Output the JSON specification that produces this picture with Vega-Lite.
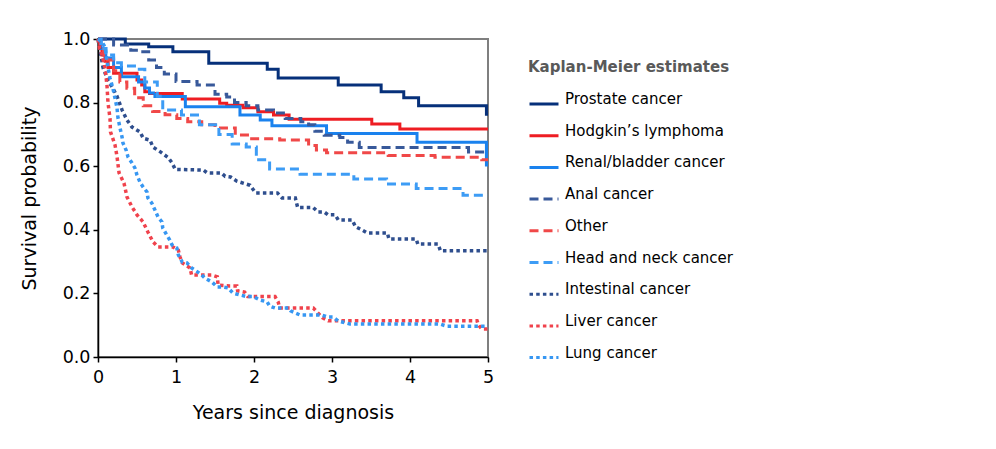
{
  "$schema": "https://vega.github.io/schema/vega-lite/v6.json",
  "width": 390,
  "height": 318,
  "autosize": "none",
  "padding": {"left": 98, "top": 39, "right": 508, "bottom": 92},
  "background": "white",
  "data": {
    "values": [
      {"g": "Prostate cancer", "t": [0,0.35,0.65,0.96,1.42,2.17,2.31,3.08,3.63,3.92,4.11,4.98,5], "s": [1,0.984,0.976,0.96,0.924,0.905,0.877,0.855,0.834,0.815,0.79,0.763,0.763]},
      {"g": "Hodgkin’s lymphoma", "t": [0,0.02,0.05,0.09,0.13,0.2,0.5,0.56,0.6,0.66,1.08,1.56,1.65,1.86,2.05,2.25,2.45,3.51,3.87,5], "s": [1,0.97,0.95,0.93,0.91,0.892,0.871,0.855,0.834,0.829,0.811,0.798,0.792,0.784,0.771,0.761,0.748,0.733,0.717,0.717]},
      {"g": "Renal/bladder cancer", "t": [0,0.04,0.1,0.2,0.3,0.52,0.6,0.66,0.73,1.12,1.82,2.08,2.23,2.93,4.09,4.98,5], "s": [1,0.97,0.94,0.91,0.881,0.865,0.846,0.83,0.819,0.787,0.761,0.745,0.727,0.703,0.675,0.604,0.604]},
      {"g": "Anal cancer", "t": [0,0.2,0.42,0.55,0.65,0.75,0.85,1.0,1.27,1.5,1.65,1.75,1.9,2.05,2.25,2.4,2.6,2.7,2.78,2.9,3.1,3.2,3.35,4.75,5], "s": [1,0.981,0.965,0.96,0.934,0.91,0.89,0.866,0.855,0.826,0.818,0.8,0.79,0.777,0.767,0.75,0.74,0.73,0.71,0.697,0.69,0.675,0.659,0.645,0.645]},
      {"g": "Other", "t": [0,0.03,0.07,0.12,0.2,0.28,0.37,0.47,0.58,0.7,0.86,1.01,1.15,1.33,1.5,1.76,1.95,2.33,2.7,2.8,2.93,3.72,4.32,4.92,5], "s": [1,0.97,0.95,0.934,0.9,0.865,0.845,0.815,0.79,0.772,0.762,0.75,0.74,0.73,0.72,0.698,0.686,0.682,0.665,0.651,0.642,0.634,0.628,0.62,0.62]},
      {"g": "Head and neck cancer", "t": [0,0.04,0.1,0.2,0.3,0.5,0.6,0.76,0.83,1.07,1.3,1.55,1.72,1.9,2.03,2.2,2.59,3.28,3.7,4.08,4.68,5], "s": [1,0.97,0.95,0.925,0.915,0.905,0.865,0.82,0.777,0.761,0.73,0.7,0.67,0.66,0.62,0.591,0.575,0.56,0.544,0.53,0.509,0.509]},
      {"g": "Intestinal cancer", "t": [0,0.03,0.064,0.128,0.19,0.244,0.308,0.372,0.436,0.538,0.58,0.667,0.705,0.8,0.9,0.95,0.99,1.35,1.4,1.58,1.63,1.7,1.78,1.95,2.02,2.3,2.36,2.53,2.56,2.76,2.82,2.9,2.95,3.04,3.08,3.26,3.3,3.38,3.45,3.71,3.73,4.08,4.1,4.36,4.39,5], "s": [1,0.96,0.91,0.87,0.845,0.82,0.777,0.745,0.723,0.708,0.688,0.682,0.66,0.645,0.627,0.61,0.59,0.588,0.579,0.579,0.568,0.566,0.553,0.54,0.516,0.516,0.5,0.5,0.47,0.47,0.456,0.456,0.447,0.447,0.431,0.431,0.41,0.4,0.39,0.39,0.371,0.371,0.355,0.355,0.334,0.334]},
      {"g": "Liver cancer", "t": [0,0.02,0.05,0.09,0.115,0.128,0.154,0.16,0.218,0.244,0.27,0.333,0.372,0.436,0.5,0.577,0.64,0.705,0.77,0.96,1.03,1.05,1.08,1.18,1.2,1.46,1.53,1.54,1.69,1.78,1.79,1.88,1.92,2.27,2.31,2.33,2.76,2.88,2.95,4.86,4.88,4.92,5], "s": [1,0.97,0.95,0.91,0.855,0.8,0.75,0.708,0.667,0.63,0.579,0.547,0.503,0.472,0.447,0.425,0.393,0.362,0.346,0.346,0.336,0.316,0.296,0.28,0.258,0.258,0.252,0.226,0.223,0.223,0.208,0.204,0.19,0.19,0.173,0.154,0.154,0.123,0.114,0.114,0.1,0.088,0.088]},
      {"g": "Lung cancer", "t": [0,0.05,0.09,0.128,0.154,0.19,0.218,0.244,0.256,0.28,0.308,0.32,0.36,0.385,0.436,0.474,0.5,0.538,0.577,0.628,0.64,0.69,0.73,0.77,0.82,0.83,0.88,0.92,0.95,1.01,1.03,1.08,1.14,1.2,1.28,1.33,1.37,1.46,1.53,1.6,1.67,1.73,1.82,1.91,1.99,2.08,2.17,2.2,2.27,2.44,2.47,2.59,2.87,2.94,3.01,3.08,3.23,4.38,4.47,5], "s": [1,0.99,0.975,0.91,0.877,0.846,0.814,0.783,0.752,0.723,0.692,0.673,0.651,0.629,0.61,0.594,0.572,0.55,0.535,0.519,0.5,0.484,0.462,0.44,0.425,0.406,0.384,0.368,0.352,0.343,0.321,0.299,0.296,0.28,0.267,0.258,0.248,0.236,0.22,0.22,0.217,0.201,0.195,0.19,0.19,0.179,0.173,0.16,0.154,0.154,0.145,0.132,0.132,0.126,0.126,0.113,0.104,0.104,0.097,0.097]}
    ]
  },
  "transform": [{"flatten": ["t", "s"]}],
  "encoding": {
    "x": {
      "field": "t", "type": "quantitative",
      "scale": {"domain": [0, 5], "nice": false},
      "axis": {"values": [0,1,2,3,4,5], "format": "d", "title": "Years since diagnosis", "labelFlush": false, "labelPadding": 6, "titlePadding": 18}
    },
    "y": {
      "field": "s", "type": "quantitative",
      "scale": {"domain": [0, 1], "nice": false},
      "axis": {"values": [0,0.2,0.4,0.6,0.8,1.0], "format": ".1f", "title": "Survival probability", "labelFlush": false, "labelPadding": 3, "titlePadding": 23}
    },
    "color": {
      "field": "g", "type": "nominal", "title": "Kaplan-Meier estimates",
      "scale": {
        "domain": ["Prostate cancer","Hodgkin’s lymphoma","Renal/bladder cancer","Anal cancer","Other","Head and neck cancer","Intestinal cancer","Liver cancer","Lung cancer"],
        "range": ["#06307a","#ee1d23","#1a82ee","#38599a","#f04848","#3d9cf5","#2e4e8e","#f0424c","#3797f2"]
      },
      "legend": {"orient": "none", "legendX": 430, "legendY": 21}
    },
    "strokeDash": {
      "field": "g", "type": "nominal", "title": "Kaplan-Meier estimates",
      "scale": {
        "domain": ["Prostate cancer","Hodgkin’s lymphoma","Renal/bladder cancer","Anal cancer","Other","Head and neck cancer","Intestinal cancer","Liver cancer","Lung cancer"],
        "range": [[1,0],[1,0],[1,0],[9,5],[9,5],[9,5],[3.5,3.2],[3.5,3.2],[3.5,3.2]]
      },
      "legend": {"orient": "none", "legendX": 430, "legendY": 21}
    }
  },
  "layer": [
    {
      "transform": [{"filter": {"field": "g", "oneOf": ["Prostate cancer","Hodgkin’s lymphoma","Renal/bladder cancer","Anal cancer","Other","Head and neck cancer"]}}],
      "mark": {"type": "line", "interpolate": "step-after", "strokeWidth": 3}
    },
    {
      "transform": [{"filter": {"field": "g", "oneOf": ["Intestinal cancer","Liver cancer","Lung cancer"]}}],
      "mark": {"type": "line", "interpolate": "linear", "strokeWidth": 3.5}
    }
  ],
  "config": {
    "view": {"stroke": "#7f7f7f", "strokeWidth": 2},
    "axis": {
      "grid": false, "domainColor": "black", "domainWidth": 1.5, "tickColor": "black", "tickWidth": 1.5, "tickSize": 5,
      "labelFont": "DejaVu Sans", "labelFontSize": 17.5, "labelColor": "black",
      "titleFont": "DejaVu Sans", "titleFontSize": 19, "titleFontWeight": "normal", "titleColor": "black"
    },
    "legend": {
      "symbolType": "stroke", "symbolSize": 841, "symbolStrokeWidth": 3, "rowPadding": 9.7,
      "labelFont": "DejaVu Sans", "labelFontSize": 15, "labelColor": "black", "labelOffset": 5, "labelBaseline": "alphabetic", "labelLimit": 400,
      "titleFont": "DejaVu Sans", "titleFontSize": 15, "titleFontWeight": "bold", "titleColor": "#595959", "titlePadding": 13, "titleLimit": 400
    }
  }
}
